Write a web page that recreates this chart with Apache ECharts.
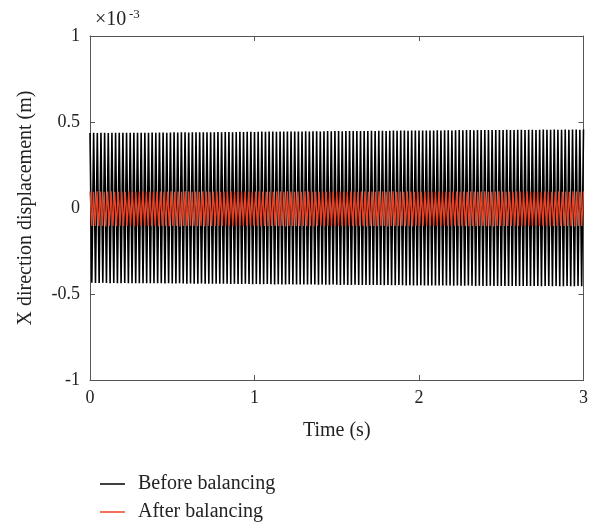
<!DOCTYPE html>
<html>
<head>
<meta charset="utf-8">
<script src="https://cdn.jsdelivr.net/npm/echarts@6/dist/echarts.min.js"></script>
<style>html,body{margin:0;padding:0;background:#fff}#c{width:591px;height:522px}</style>
</head>
<body>
<div id="c"></div>
<script>
// Values in units of 1e-3 m (axis shows ×10^-3)
var xTicks = [0, 1, 2, 3];
var yTicks = [-1, -0.5, 0, 0.5, 1];
var duration = 3; // s
// Before balancing: successive peak (upper) and trough (lower) values of each cycle
var beforeUpper = [
0.436,0.437,0.436,0.437,0.437,0.436,0.437,0.438,0.437,0.437,0.438,0.437,0.438,0.438,0.437,0.438,0.438,
0.439,0.438,0.439,0.439,0.438,0.439,0.440,0.439,0.440,0.440,0.439,0.440,0.441,0.440,0.441,0.441,0.440,
0.441,0.442,0.441,0.442,0.442,0.441,0.442,0.443,0.442,0.443,0.443,0.442,0.443,0.444,0.443,0.444,0.444,
0.443,0.444,0.445,0.444,0.445,0.445,0.444,0.445,0.446,0.445,0.446,0.446,0.445,0.446,0.447,0.446,0.447,
0.447,0.446,0.447,0.448,0.447,0.448,0.448,0.447,0.448,0.449,0.448,0.449,0.449,0.448,0.449,0.450,0.449,
0.450,0.450,0.449,0.450,0.451,0.450,0.451,0.451,0.450,0.451,0.452,0.451,0.452,0.452,0.451,0.452,0.453,
0.452,0.453,0.453,0.452,0.453,0.454,0.453,0.454,0.454,0.453,0.454,0.454,0.455,0.454,0.454,0.455,0.455,
0.454,0.455,0.455,0.454,0.455,0.456,0.455,0.455,0.456,0.455,0.455,0.456,0.455,0.456,0.456,0.455,0.456];
var beforeLower = [
-0.435,-0.436,-0.436,-0.435,-0.436,-0.437,-0.436,-0.437,-0.437,-0.436,-0.437,-0.438,-0.437,-0.437,-0.438,-0.437,-0.438,
-0.438,-0.437,-0.438,-0.439,-0.438,-0.439,-0.439,-0.438,-0.439,-0.440,-0.439,-0.440,-0.440,-0.439,-0.440,-0.441,-0.440,
-0.441,-0.441,-0.440,-0.441,-0.442,-0.441,-0.442,-0.442,-0.441,-0.442,-0.443,-0.442,-0.443,-0.443,-0.442,-0.443,-0.444,
-0.443,-0.444,-0.444,-0.443,-0.444,-0.445,-0.444,-0.445,-0.445,-0.444,-0.445,-0.446,-0.445,-0.446,-0.446,-0.445,-0.446,
-0.447,-0.446,-0.447,-0.447,-0.446,-0.447,-0.448,-0.447,-0.448,-0.448,-0.447,-0.448,-0.449,-0.448,-0.449,-0.449,-0.448,
-0.449,-0.450,-0.449,-0.450,-0.450,-0.449,-0.450,-0.451,-0.450,-0.451,-0.451,-0.450,-0.451,-0.451,-0.452,-0.451,-0.452,
-0.452,-0.451,-0.452,-0.453,-0.452,-0.453,-0.453,-0.452,-0.453,-0.453,-0.454,-0.453,-0.453,-0.454,-0.454,-0.453,-0.454,
-0.454,-0.453,-0.454,-0.454,-0.455,-0.454,-0.454,-0.455,-0.454,-0.455,-0.455,-0.454,-0.455,-0.455,-0.454,-0.455];
// After balancing
var afterUpper = [
0.096,0.095,0.097,0.096,0.094,0.096,0.097,0.095,0.096,0.096,0.095,0.097,0.096,0.094,0.096,0.097,0.095,0.096,0.095,0.097,
0.096,0.095,0.096,0.097,0.094,0.096,0.095,0.097,0.096,0.095,0.096,0.094,0.097,0.096,0.095,0.096,0.097,0.095,0.096,0.094,
0.097,0.096,0.095,0.096,0.097,0.095,0.094,0.096,0.097,0.096,0.095,0.096,0.094,0.097,0.096,0.095,0.097,0.096,0.094,0.096,
0.095,0.097,0.096,0.095,0.096,0.094,0.097,0.096,0.095,0.097,0.096,0.094,0.096,0.095,0.097,0.096,0.095,0.096,0.097,0.094,
0.096,0.095,0.097,0.096,0.094,0.096,0.097,0.095,0.096,0.095,0.097,0.096,0.094,0.096,0.095,0.097,0.096,0.095,0.096,0.097,
0.094,0.096,0.095,0.097,0.096,0.095,0.096,0.094,0.097,0.096,0.095,0.096,0.097,0.095,0.094,0.096,0.097,0.096,0.095,0.096,
0.094,0.097,0.096,0.095,0.097,0.096,0.094,0.096,0.095,0.097,0.096,0.095,0.096,0.097,0.094,0.096,0.095,0.097,0.096,0.095,
0.096];
var afterLower = [
-0.105,-0.104,-0.106,-0.105,-0.107,-0.105,-0.104,-0.106,-0.105,-0.106,-0.104,-0.105,-0.107,-0.105,-0.106,-0.104,-0.105,-0.106,-0.105,-0.107,
-0.104,-0.105,-0.106,-0.105,-0.104,-0.107,-0.105,-0.106,-0.104,-0.105,-0.106,-0.105,-0.107,-0.104,-0.105,-0.106,-0.105,-0.104,-0.106,-0.105,
-0.107,-0.105,-0.104,-0.106,-0.105,-0.106,-0.104,-0.105,-0.107,-0.105,-0.106,-0.104,-0.105,-0.106,-0.105,-0.107,-0.104,-0.105,-0.106,-0.105,
-0.104,-0.106,-0.105,-0.107,-0.105,-0.104,-0.106,-0.105,-0.106,-0.104,-0.105,-0.107,-0.105,-0.106,-0.104,-0.105,-0.106,-0.105,-0.107,-0.104,
-0.105,-0.106,-0.105,-0.104,-0.107,-0.105,-0.106,-0.104,-0.105,-0.106,-0.105,-0.107,-0.104,-0.105,-0.106,-0.105,-0.104,-0.106,-0.105,-0.107,
-0.105,-0.104,-0.106,-0.105,-0.106,-0.104,-0.105,-0.107,-0.105,-0.106,-0.104,-0.105,-0.106,-0.105,-0.107,-0.104,-0.105,-0.106,-0.105,-0.104,
-0.106,-0.105,-0.107,-0.105,-0.104,-0.106,-0.105,-0.106,-0.104,-0.105,-0.107,-0.105,-0.106,-0.104,-0.105,-0.106,-0.105,-0.107,-0.104,-0.105];

// interleave peaks and troughs; extrema evenly spaced in time over the record
function zigzag(up, lo) {
  var vals = [];
  for (var i = 0; i < up.length; i++) {
    vals.push(up[i]);
    if (i < lo.length) vals.push(lo[i]);
  }
  var step = duration / (vals.length - 1);
  return vals.map(function (v, k) { return [k * step, v]; });
}

var FONT = 'Liberation Serif';
var chart = echarts.init(document.getElementById('c'), null, {renderer: 'canvas'});
var axisLine = {show: true, onZero: false, lineStyle: {color: '#555', width: 1}};
var tick = {show: true, inside: true, length: 5, lineStyle: {color: '#555'}};
chart.setOption({
  animation: false,
  backgroundColor: '#fff',
  grid: {left: 90, right: 4, top: 36, bottom: 142, containLabel: false},
  xAxis: [{
    type: 'value', min: xTicks[0], max: xTicks[xTicks.length - 1], interval: 1,
    position: 'bottom',
    axisLine: axisLine, axisTick: tick, splitLine: {show: false},
    axisLabel: {margin: 9, color: '#222', fontFamily: FONT, fontSize: 18},
    name: 'Time (s)', nameLocation: 'middle', nameGap: 41,
    nameTextStyle: {color: '#222', fontFamily: FONT, fontSize: 20, verticalAlign: 'top'}
  }, {
    type: 'value', min: 0, max: 3, interval: 1, position: 'top',
    axisLine: axisLine, axisTick: tick, splitLine: {show: false}, axisLabel: {show: false}
  }],
  yAxis: [{
    type: 'value', min: yTicks[0], max: yTicks[yTicks.length - 1], interval: 0.5,
    position: 'left',
    axisLine: axisLine, axisTick: tick, splitLine: {show: false},
    axisLabel: {margin: 10, color: '#222', fontFamily: FONT, fontSize: 18},
    name: 'X direction displacement (m)', nameLocation: 'middle', nameGap: 54,
    nameTextStyle: {color: '#222', fontFamily: FONT, fontSize: 20}
  }, {
    type: 'value', min: -1, max: 1, interval: 0.5, position: 'right',
    axisLine: axisLine, axisTick: tick, splitLine: {show: false}, axisLabel: {show: false}
  }],
  legend: {
    orient: 'vertical', left: 100, top: 474, height: 48, padding: 0, itemWidth: 25, itemHeight: 1.5, itemGap: 8,
    icon: 'rect',
    textStyle: {fontFamily: FONT, fontSize: 20, color: '#222', padding: [0, 0, 0, 8]},
    data: ['Before balancing', 'After balancing']
  },
  graphic: [
    {type: 'text', left: 95, top: 10, style: {text: '×10', font: '20px "Liberation Serif"', fill: '#222'}},
    {type: 'text', left: 129, top: 8, style: {text: '-3', font: '13px "Liberation Serif"', fill: '#222'}}
  ],
  series: [{
    name: 'Before balancing', type: 'line', showSymbol: false, symbol: 'none', sampling: null,
    xAxisIndex: 0, yAxisIndex: 0,
    data: zigzag(beforeUpper, beforeLower),
    lineStyle: {color: '#000', width: 1.6}, itemStyle: {color: '#000'}
  }, {
    name: 'After balancing', type: 'line', showSymbol: false, symbol: 'none',
    xAxisIndex: 0, yAxisIndex: 0,
    data: zigzag(afterUpper, afterLower),
    lineStyle: {color: '#ef4123', width: 1.3}, itemStyle: {color: '#ef4123'}
  }]
});
</script>
</body>
</html>
